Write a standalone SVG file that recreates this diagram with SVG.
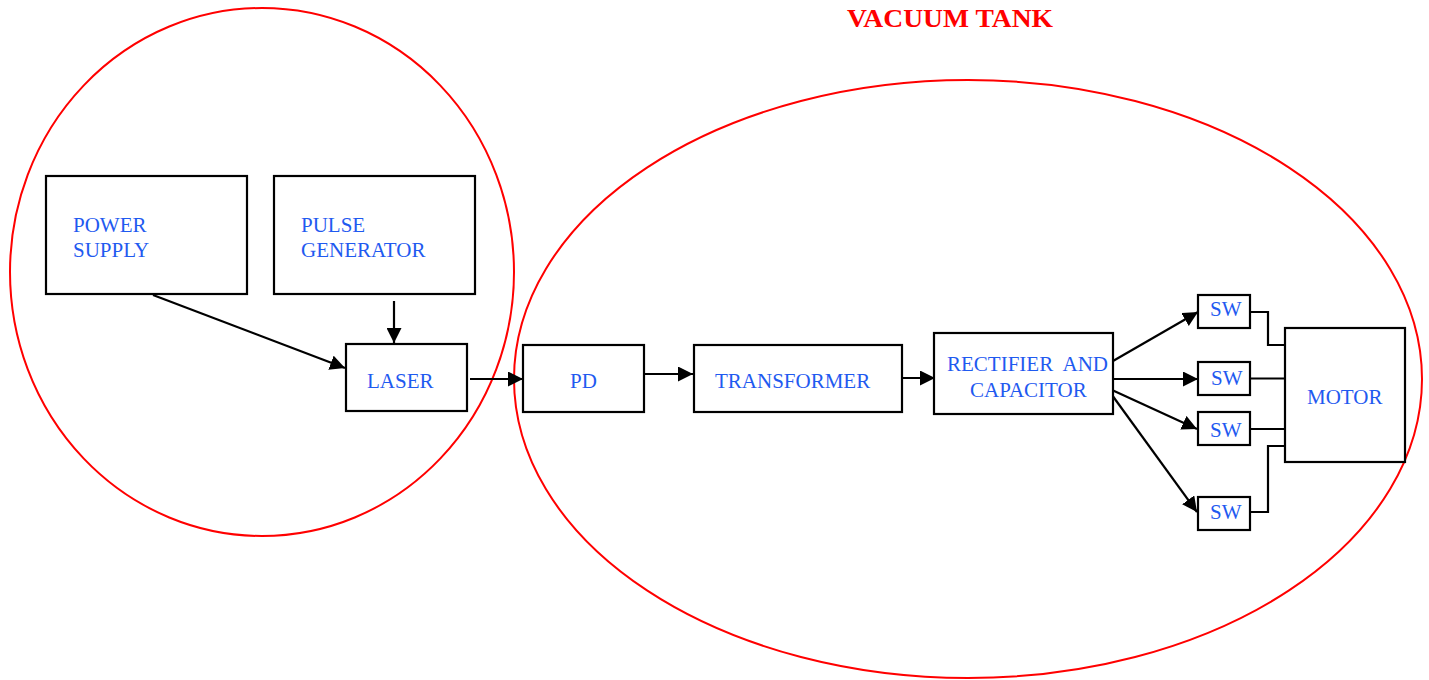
<svg xmlns="http://www.w3.org/2000/svg" width="1429" height="680" viewBox="0 0 1429 680">
<style>
.box{fill:#fff;stroke:#000;stroke-width:2.2}
.lbl{font-family:"Liberation Serif",serif;font-size:21px;fill:#1f5af0;white-space:pre}
.ring{fill:none;stroke:#ff0000;stroke-width:2}
.con{fill:none;stroke:#000;stroke-width:2.2}
.title{font-family:"Liberation Serif",serif;font-size:25px;font-weight:bold;fill:#ff0000}
</style>
<defs>
<marker id="ah2" viewBox="0 0 10 10" refX="10" refY="5" markerWidth="15" markerHeight="15" markerUnits="userSpaceOnUse" orient="auto">
<path d="M0,0 L10,5 L0,10 z" fill="#000"/>
</marker>
</defs>
<rect width="1429" height="680" fill="#fff"/>
<g id="regions">
<ellipse class="ring" cx="262" cy="272" rx="252" ry="264"/>
<ellipse class="ring" cx="968" cy="379" rx="454" ry="299"/>
<text class="title" x="847" y="27" textLength="206" lengthAdjust="spacingAndGlyphs">VACUUM TANK</text>
</g>
<g id="connectors">
<line class="con" x1="153" y1="295" x2="345" y2="368" marker-end="url(#ah2)"/>
<line class="con" x1="394" y1="301" x2="394" y2="343" marker-end="url(#ah2)"/>
<line class="con" x1="470" y1="379" x2="523" y2="379" marker-end="url(#ah2)"/>
<line class="con" x1="644" y1="374" x2="693" y2="374" marker-end="url(#ah2)"/>
<line class="con" x1="902" y1="378" x2="935" y2="378" marker-end="url(#ah2)"/>
<line class="con" x1="1113" y1="361" x2="1198" y2="312" marker-end="url(#ah2)"/>
<line class="con" x1="1113" y1="379" x2="1198" y2="379" marker-end="url(#ah2)"/>
<line class="con" x1="1112" y1="390" x2="1197" y2="429" marker-end="url(#ah2)"/>
<line class="con" x1="1112" y1="395" x2="1197" y2="512" marker-end="url(#ah2)"/>
<polyline class="con" points="1250,312 1268,312 1268,345 1285,345"/>
<line class="con" x1="1250" y1="378.5" x2="1285" y2="378.5"/>
<line class="con" x1="1250" y1="429" x2="1285" y2="429"/>
<polyline class="con" points="1250,512 1268,512 1268,446 1285,446"/>
</g>
<g id="power-supply">
<rect class="box" x="46" y="176" width="201" height="118"/>
<text class="lbl" x="73" y="232">POWER</text>
<text class="lbl" x="73" y="257">SUPPLY</text>
</g>
<g id="pulse-generator">
<rect class="box" x="274" y="176" width="201" height="118"/>
<text class="lbl" x="301" y="232">PULSE</text>
<text class="lbl" x="301" y="257">GENERATOR</text>
</g>
<g id="laser">
<rect class="box" x="346" y="344" width="121" height="67"/>
<text class="lbl" x="367" y="388">LASER</text>
</g>
<g id="pd">
<rect class="box" x="523" y="345" width="121" height="67"/>
<text class="lbl" x="570" y="388">PD</text>
</g>
<g id="transformer">
<rect class="box" x="694" y="345" width="208" height="67"/>
<text class="lbl" x="715" y="388">TRANSFORMER</text>
</g>
<g id="rectifier">
<rect class="box" x="934" y="333" width="179" height="81"/>
<text class="lbl" x="947" y="371">RECTIFIER  AND</text>
<text class="lbl" x="970" y="397">CAPACITOR</text>
</g>
<g id="sw1">
<rect class="box" x="1198" y="295" width="52" height="33"/>
<text class="lbl" x="1210" y="316">SW</text>
</g>
<g id="sw2">
<rect class="box" x="1198" y="362" width="52" height="33"/>
<text class="lbl" x="1211" y="385">SW</text>
</g>
<g id="sw3">
<rect class="box" x="1198" y="412" width="52" height="33"/>
<text class="lbl" x="1210" y="437">SW</text>
</g>
<g id="sw4">
<rect class="box" x="1198" y="497" width="52" height="33"/>
<text class="lbl" x="1210" y="519">SW</text>
</g>
<g id="motor">
<rect class="box" x="1285" y="328" width="120" height="134"/>
<text class="lbl" x="1307" y="404">MOTOR</text>
</g>
</svg>
